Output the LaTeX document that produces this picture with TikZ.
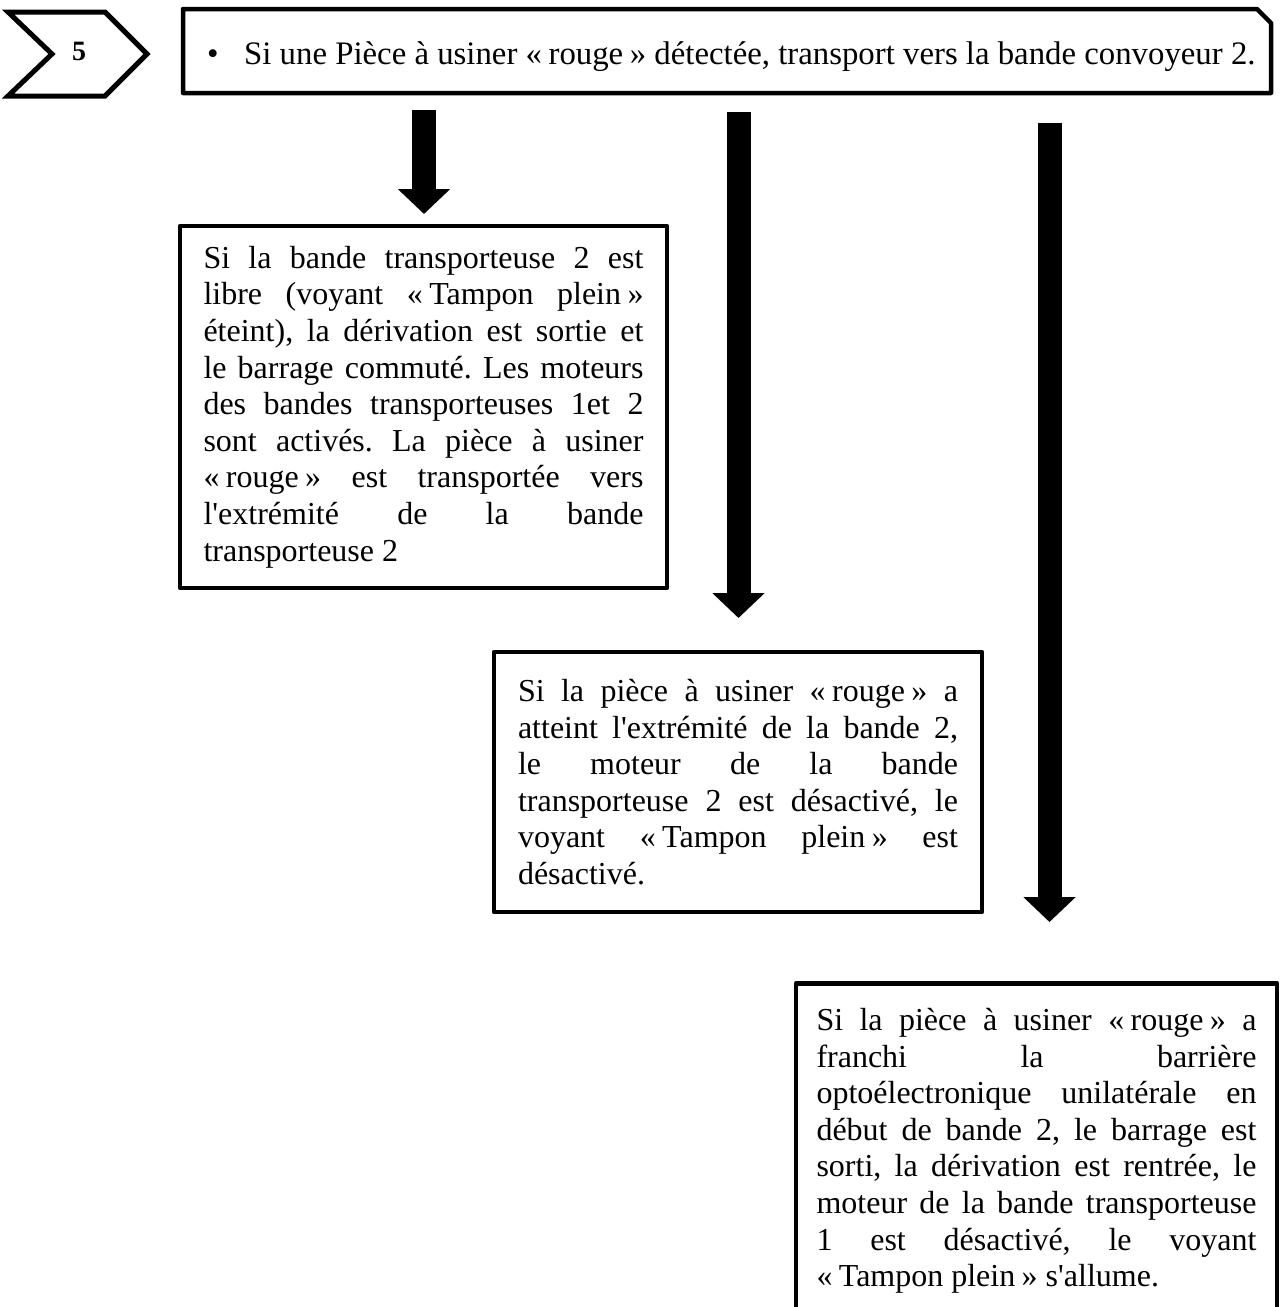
\documentclass[tikz,border=0pt]{standalone}
\usepackage{fontspec}
\setmainfont{Liberation Serif}[Ligatures=TeXOff]
\usetikzlibrary{arrows.meta}

% French quotes with a fixed inner space
\newcommand\gopen{«\kern.2em}
\newcommand\gclose{\kern.2em»}
% Justified paragraph: equal stretch of all spaces, last line ragged
\newcommand\justpar[1]{\frenchspacing\parindent=0pt\leftskip=0pt\rightskip=0pt
  \spaceskip=.25em plus 1fil\relax\parfillskip=0pt plus 1fill\relax #1\par}

\tikzset{
  frame/.style={draw, line width=4.5pt, line join=round},
  body/.style={font=\fontsize{32}{36.6}\selectfont},
  para/.style={frame, body, text width=440pt, align=justify},
  bigarrow/.style={line width=24pt, line cap=butt, -{Triangle[length=25pt,width=51pt]}},
}

\begin{document}
\begin{tikzpicture}[x=1pt,y=-1pt]
\useasboundingbox (0,0) rectangle (1281,1307);
\clip (0,0) rectangle (1281,1307);

% step chevron
\draw[line width=5pt, line join=miter] (8,12) -- (105,12) -- (147,54) -- (105,96) -- (8,96) -- (52,54) -- cycle;
\node[font=\bfseries\fontsize{28}{32}\selectfont] (step5) at (79,51) {5};

% heading box with one cut corner
\draw[frame] (183,9) -- (1257,9) -- (1271,23) -- (1271,93) -- (183,93) -- cycle;
\node[font=\fontsize{32.8}{37}\selectfont, anchor=base west, inner sep=0pt] (head) at (207,64)
  {\makebox[37pt][l]{•}Si une Pièce à usiner \gopen rouge\gclose{} détectée, transport vers la bande convoyeur 2.};

% condition boxes
\node[para, minimum width=487pt, minimum height=362pt] (b1) at (423.5,407) {\justpar{%
Si la bande transporteuse 2 est\linebreak
libre (voyant \gopen Tampon plein\gclose\linebreak
éteint), la dérivation est sortie et\linebreak
le barrage commuté. Les moteurs\linebreak
des bandes transporteuses 1et 2\linebreak
sont activés. La pièce à usiner\linebreak
\gopen rouge\gclose{} est transportée vers\linebreak
l'extrémité de la bande\linebreak
transporteuse 2}};

\node[para, minimum width=488pt, minimum height=260pt] (b2) at (738,782) {\justpar{%
Si la pièce à usiner \gopen rouge\gclose{} a\linebreak
atteint l'extrémité de la bande 2,\linebreak
le moteur de la bande\linebreak
transporteuse 2 est désactivé, le\linebreak
voyant \gopen Tampon plein\gclose{} est\linebreak
désactivé.}};

\node[para, anchor=north, minimum width=481pt, inner ysep=25pt] (b3) at (1036.5,981) {\justpar{%
Si la pièce à usiner \gopen rouge\gclose{} a\linebreak
franchi la barrière\linebreak
optoélectronique unilatérale en\linebreak
début de bande 2, le barrage est\linebreak
sorti, la dérivation est rentrée, le\linebreak
moteur de la bande transporteuse\linebreak
1 est désactivé, le voyant\linebreak
\gopen Tampon plein\gclose{} s'allume.}};

% block arrows
\coordinate (a1s) at (424,110);   \coordinate (a1e) at (424,214);
\coordinate (a2s) at (738.5,112); \coordinate (a2e) at (738.5,618);
\coordinate (a3s) at (1049.5,123); \coordinate (a3e) at (1049.5,922);
\draw[bigarrow] (a1s) -- (a1e);
\draw[bigarrow] (a2s) -- (a2e);
\draw[bigarrow] (a3s) -- (a3e);
\end{tikzpicture}
\end{document}
